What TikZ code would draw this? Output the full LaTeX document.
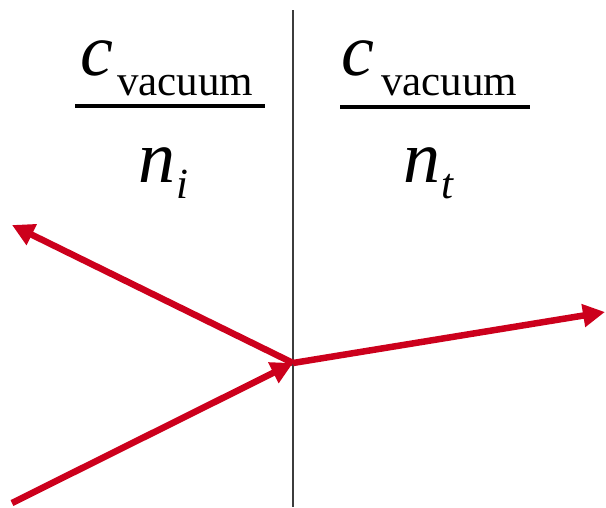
\documentclass[tikz,border=0pt]{standalone}
\usepackage{fontspec}
\setmainfont{Liberation Serif}
\usetikzlibrary{arrows.meta}
\definecolor{rayred}{RGB}{204,0,28}
\definecolor{wallgray}{RGB}{60,60,60}
\begin{document}
\begin{tikzpicture}[x=1pt,y=-1pt,
  ray/.style={draw=rayred,line width=6.5pt,-{Triangle[length=22pt,width=22pt]}},
  big/.style={anchor=base west,inner sep=0pt,font=\fontsize{74}{74}\selectfont\itshape},
  sub/.style={anchor=base west,inner sep=0pt,font=\fontsize{43}{43}\selectfont},
  subit/.style={anchor=base west,inner sep=0pt,font=\fontsize{43}{43}\selectfont\itshape},
  bar/.style={draw=black,line width=3.5pt}]
\useasboundingbox (0,0) rectangle (606,507);
% interface
\coordinate (wtop) at (293,10);
\coordinate (wbot) at (293,507);
\draw[wallgray,line width=1.4pt] (wtop) -- (wbot);
% labels left
\node[big] (c1) at (80,75) {c};
\node[sub] (v1) at (117,95) {vacuum};
\coordinate (b1l) at (75,106);
\coordinate (b1r) at (265,106);
\draw[bar] (b1l) -- (b1r);
\node[big] (n1) at (138,182) {n};
\node[subit] (i1) at (176,198) {i};
% labels right
\node[big] (c2) at (341,75) {c};
\node[sub] (v2) at (381,95) {vacuum};
\coordinate (b2l) at (340,107);
\coordinate (b2r) at (530,107);
\draw[bar] (b2l) -- (b2r);
\node[big] (n2) at (403,182) {n};
\node[subit] (t2) at (441,198) {t};
% rays
\coordinate (O) at (293,363);
\coordinate (inc) at (12,503);
\coordinate (refl) at (12,225);
\coordinate (trans) at (605,312);
\draw[ray] (inc) -- (O);
\draw[ray] (O) -- (refl);
\draw[ray] (O) -- (trans);
\end{tikzpicture}
\end{document}
